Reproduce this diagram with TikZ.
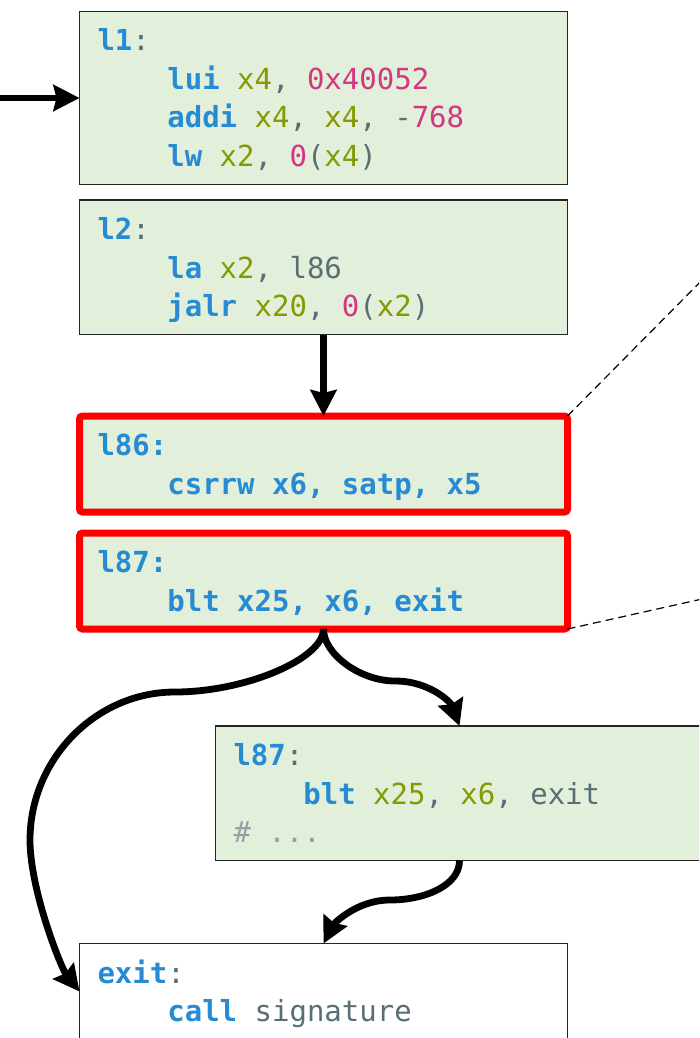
\documentclass[tikz,border=0pt]{standalone}
\usepackage{fontspec}
\usepackage{xcolor}
\usepackage{tikz}
\usetikzlibrary{positioning,arrows.meta}
\newfontfamily\codefont{DejaVu Sans Mono}
\definecolor{kwblue}{HTML}{268BD2}
\definecolor{reggreen}{HTML}{859900}
\definecolor{nummag}{HTML}{D33682}
\definecolor{punct}{HTML}{586E75}
\definecolor{cmtgrey}{HTML}{93A1A1}
\definecolor{blockfill}{HTML}{E2EFDA}
\definecolor{hlred}{RGB}{255,0,0}
\newcommand{\kw}[1]{\textcolor{kwblue}{\bfseries #1}}
\newcommand{\rg}[1]{\textcolor{reggreen}{#1}}
\newcommand{\nm}[1]{\textcolor{nummag}{#1}}
\newcommand{\cmt}[1]{\textcolor{cmtgrey}{#1}}
\newcommand{\ind}{\phantom{xxxx}}
\newcommand{\ls}{\spaceskip=0pt\xspaceskip=0pt\rule[-8.5pt]{0pt}{38.5pt}}

\begin{document}
\begin{tikzpicture}[
  x=1pt, y=1pt,
  codebox/.style={rectangle, draw=black!85, line width=1.5pt, fill=blockfill,
                  text width=452pt, inner xsep=18pt, inner ysep=9.5pt, outer sep=0pt,
                  align=left, text=punct,
                  font=\codefont\fontsize{29}{38.5}\selectfont\frenchspacing},
  hlbox/.style={codebox, draw=hlred, line width=7pt, rounded corners=3pt,
                text=kwblue, font=\codefont\fontsize{29}{38.5}\selectfont\frenchspacing\bfseries},
  exitbox/.style={codebox, fill=white},
  flow/.style={-{Stealth[length=26pt,width=26pt,inset=3pt]}, line width=6.8pt},
  zoomline/.style={dash pattern=on 8pt off 5pt, line width=1.2pt}
]
  \useasboundingbox (0,0) rectangle (699,-1038);
  \clip (0,0) rectangle (699,-1038);

  \node[codebox, anchor=north west] (l1) at (79.5,-11.5)
    {\ls\kw{l1}:\\
     \ls\ind\kw{lui} \rg{x4}, \nm{0x40052}\\
     \ls\ind\kw{addi} \rg{x4}, \rg{x4}, -\nm{768}\\
     \ls\ind\kw{lw} \rg{x2}, \nm{0}(\rg{x4})};
  \node[codebox, below=15.5pt of l1] (l2)
    {\ls\kw{l2}:\\
     \ls\ind\kw{la} \rg{x2}, l86\\
     \ls\ind\kw{jalr} \rg{x20}, \nm{0}(\rg{x2})};
  \node[hlbox, below=81.5pt of l2] (l86)
    {\ls l86:\\
     \ls\ind csrrw x6, satp, x5};
  \node[hlbox, below=21pt of l86] (l87)
    {\ls l87:\\
     \ls\ind blt x25, x6, exit};
  \node[codebox, below=97pt of l87, xshift=136pt] (l87b)
    {\ls\kw{l87}:\\
     \ls\ind\kw{blt} \rg{x25}, \rg{x6}, exit\\
     \ls\cmt{\# ...}};
  \node[exitbox, below=83pt of l87b, xshift=-136pt] (ex)
    {\ls\kw{exit}:\\
     \ls\ind\kw{call} signature};

  \coordinate (inflow) at (-10,-98);
  \coordinate (zoomtop) at (720,-262);
  \coordinate (zoombot) at (720,-595);

  % zoom guides
  \draw[zoomline] (l86.north east) -- (zoomtop);
  \draw[zoomline] (l87.south east) -- (zoombot);

  % control flow
  \draw[flow] (inflow) -- (l1);
  \draw[flow] (l2) -- (l86);
  \draw[flow] (l87.south) to[out=-90, in=180, out distance=25pt, in distance=35pt] (395,-681)
    to[out=0, in=110, out distance=35pt, in distance=25pt] (l87b.north);
  \draw[flow] (l87.south) to[out=-90, in=0, out distance=30pt, in distance=70pt] (175,-692)
    to[out=180, in=90, out distance=80pt, in distance=80pt] (30,-840)
    to[out=-90, in=128, out distance=50pt, in distance=30pt] (ex.west);
  \draw[flow] (l87b.south) to[out=-90, in=0, out distance=25pt, in distance=35pt] (390,-900)
    to[out=180, in=63, out distance=35pt, in distance=20pt] (ex.north);
\end{tikzpicture}
\end{document}
